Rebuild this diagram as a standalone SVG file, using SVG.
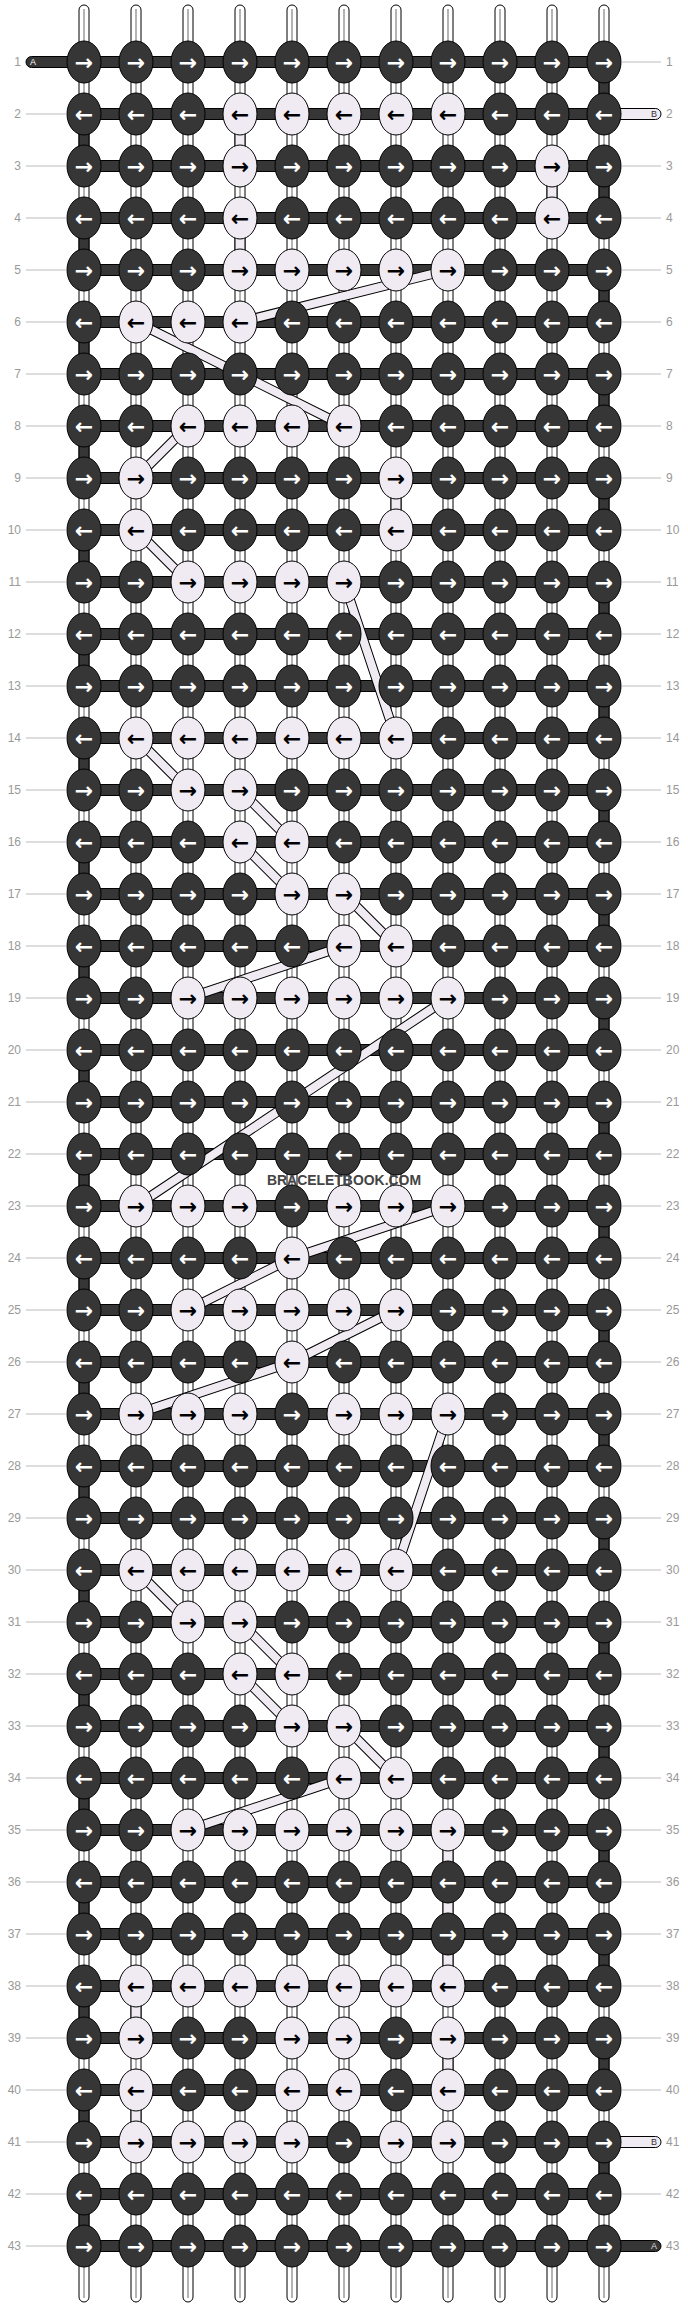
<svg xmlns="http://www.w3.org/2000/svg" width="688" height="2308" viewBox="0 0 688 2308">
<style>
.s{fill:#fff;stroke:#000;stroke-width:1}
.sc{stroke:#b4b4b4;stroke-width:2}
.vd{fill:#363636;stroke:#000;stroke-width:1}
.vp{fill:#f0eaf3;stroke:#000;stroke-width:1}
.h{fill:#363636;stroke:#000;stroke-width:1}
.be{fill:none;stroke:#000;stroke-width:10}
.bp{fill:none;stroke:#f0eaf3;stroke-width:8}
.k ellipse{fill:#363636;stroke:#000;stroke-width:1;rx:17px;ry:21px}
.k text{fill:#fff;font-family:"DejaVu Sans",sans-serif;font-size:22px;font-weight:bold;text-anchor:middle;dominant-baseline:central}
.k .L ellipse{fill:#f0eaf3}
.k .L text{fill:#000}
.lbl{fill:#999;font-family:"Liberation Sans",Arial,sans-serif;font-size:12px}
.lr{text-anchor:end}
.ln{stroke:#bbb;stroke-width:1}
.tt{font-family:"Liberation Sans",Arial,sans-serif;font-size:9px}
</style>
<g id="strings">
<rect class="s" x="79" y="5" width="10" height="2297" rx="5"/><line class="sc" x1="84" y1="9" x2="84" y2="2298"/>
<rect class="s" x="131" y="5" width="10" height="2297" rx="5"/><line class="sc" x1="136" y1="9" x2="136" y2="2298"/>
<rect class="s" x="183" y="5" width="10" height="2297" rx="5"/><line class="sc" x1="188" y1="9" x2="188" y2="2298"/>
<rect class="s" x="235" y="5" width="10" height="2297" rx="5"/><line class="sc" x1="240" y1="9" x2="240" y2="2298"/>
<rect class="s" x="287" y="5" width="10" height="2297" rx="5"/><line class="sc" x1="292" y1="9" x2="292" y2="2298"/>
<rect class="s" x="339" y="5" width="10" height="2297" rx="5"/><line class="sc" x1="344" y1="9" x2="344" y2="2298"/>
<rect class="s" x="391" y="5" width="10" height="2297" rx="5"/><line class="sc" x1="396" y1="9" x2="396" y2="2298"/>
<rect class="s" x="443" y="5" width="10" height="2297" rx="5"/><line class="sc" x1="448" y1="9" x2="448" y2="2298"/>
<rect class="s" x="495" y="5" width="10" height="2297" rx="5"/><line class="sc" x1="500" y1="9" x2="500" y2="2298"/>
<rect class="s" x="547" y="5" width="10" height="2297" rx="5"/><line class="sc" x1="552" y1="9" x2="552" y2="2298"/>
<rect class="s" x="599" y="5" width="10" height="2297" rx="5"/><line class="sc" x1="604" y1="9" x2="604" y2="2298"/>
</g>
<g id="connectors">
<path class="vd" d="M599 77h10v22h-10zM599 181h10v22h-10zM599 285h10v22h-10zM599 389h10v22h-10zM599 493h10v22h-10zM599 597h10v22h-10zM599 701h10v22h-10zM599 805h10v22h-10zM599 909h10v22h-10zM599 1013h10v22h-10zM599 1117h10v22h-10zM599 1221h10v22h-10zM599 1325h10v22h-10zM599 1429h10v22h-10zM599 1533h10v22h-10zM599 1637h10v22h-10zM599 1741h10v22h-10zM599 1845h10v22h-10zM599 1949h10v22h-10zM599 2053h10v22h-10zM599 2157h10v22h-10zM79 129h10v22h-10zM79 233h10v22h-10zM79 337h10v22h-10zM79 441h10v22h-10zM79 545h10v22h-10zM79 649h10v22h-10zM79 753h10v22h-10zM79 857h10v22h-10zM79 961h10v22h-10zM79 1065h10v22h-10zM79 1169h10v22h-10zM79 1273h10v22h-10zM79 1377h10v22h-10zM79 1481h10v22h-10zM79 1585h10v22h-10zM79 1689h10v22h-10zM79 1793h10v22h-10zM79 1897h10v22h-10zM79 2001h10v22h-10zM79 2105h10v22h-10zM79 2209h10v22h-10z"/>
<path class="vp" d="M235 129h10v22h-10zM547 181h10v22h-10zM235 233h10v22h-10zM391 493h10v22h-10zM443 1845h10v22h-10zM443 1897h10v22h-10zM443 1949h10v22h-10zM131 2001h10v22h-10zM443 2053h10v22h-10zM131 2105h10v22h-10z"/>
<rect class="h" x="26" y="56.5" width="62" height="11" rx="5.5"/>
<rect class="vp" x="600" y="108.5" width="61" height="11" rx="5.5"/>
<rect class="vp" x="600" y="2136.5" width="61" height="11" rx="5.5"/>
<rect class="h" x="600" y="2240.5" width="61" height="11" rx="5.5"/>
<path class="h" d="M84 56.5h520v11h-520zM84 108.5h520v11h-520zM84 160.5h520v11h-520zM84 212.5h520v11h-520zM84 264.5h520v11h-520zM84 316.5h520v11h-520zM84 368.5h520v11h-520zM84 420.5h520v11h-520zM84 472.5h520v11h-520zM84 524.5h520v11h-520zM84 576.5h520v11h-520zM84 628.5h520v11h-520zM84 680.5h520v11h-520zM84 732.5h520v11h-520zM84 784.5h520v11h-520zM84 836.5h520v11h-520zM84 888.5h520v11h-520zM84 940.5h520v11h-520zM84 992.5h520v11h-520zM84 1044.5h520v11h-520zM84 1096.5h520v11h-520zM84 1148.5h520v11h-520zM84 1200.5h520v11h-520zM84 1252.5h520v11h-520zM84 1304.5h520v11h-520zM84 1356.5h520v11h-520zM84 1408.5h520v11h-520zM84 1460.5h520v11h-520zM84 1512.5h520v11h-520zM84 1564.5h520v11h-520zM84 1616.5h520v11h-520zM84 1668.5h520v11h-520zM84 1720.5h520v11h-520zM84 1772.5h520v11h-520zM84 1824.5h520v11h-520zM84 1876.5h520v11h-520zM84 1928.5h520v11h-520zM84 1980.5h520v11h-520zM84 2032.5h520v11h-520zM84 2084.5h520v11h-520zM84 2136.5h520v11h-520zM84 2188.5h520v11h-520zM84 2240.5h520v11h-520z"/>
<path class="be" d="M448 270L240 322M136 322L344 426M188 426L136 478M136 530L188 582M344 582L396 738M136 738L188 790M240 790L292 842M240 842L292 894M344 894L396 946M344 946L188 998M448 998L136 1206M448 1206L292 1258M292 1258L188 1310M396 1310L292 1362M292 1362L136 1414M448 1414L396 1570M136 1570L188 1622M240 1622L292 1674M240 1674L292 1726M344 1726L396 1778M344 1778L188 1830"/>
<path class="bp" d="M448 270L240 322M136 322L344 426M188 426L136 478M136 530L188 582M344 582L396 738M136 738L188 790M240 790L292 842M240 842L292 894M344 894L396 946M344 946L188 998M448 998L136 1206M448 1206L292 1258M292 1258L188 1310M396 1310L292 1362M292 1362L136 1414M448 1414L396 1570M136 1570L188 1622M240 1622L292 1674M240 1674L292 1726M344 1726L396 1778M344 1778L188 1830"/>
</g>
<g id="tabs">
<text class="tt" x="30" y="65" fill="#fff">A</text>
<text class="tt" x="651" y="117" fill="#333">B</text>
<text class="tt" x="651" y="2145" fill="#333">B</text>
<text class="tt" x="651" y="2249" fill="#ddd">A</text>
</g>
<g id="row1" class="k" transform="translate(0,62)">
<g id="n1-1" transform="translate(84)"><ellipse/><text>→</text></g>
<g id="n1-2" transform="translate(136)"><ellipse/><text>→</text></g>
<g id="n1-3" transform="translate(188)"><ellipse/><text>→</text></g>
<g id="n1-4" transform="translate(240)"><ellipse/><text>→</text></g>
<g id="n1-5" transform="translate(292)"><ellipse/><text>→</text></g>
<g id="n1-6" transform="translate(344)"><ellipse/><text>→</text></g>
<g id="n1-7" transform="translate(396)"><ellipse/><text>→</text></g>
<g id="n1-8" transform="translate(448)"><ellipse/><text>→</text></g>
<g id="n1-9" transform="translate(500)"><ellipse/><text>→</text></g>
<g id="n1-10" transform="translate(552)"><ellipse/><text>→</text></g>
<g id="n1-11" transform="translate(604)"><ellipse/><text>→</text></g>
</g>
<g id="row2" class="k" transform="translate(0,114)">
<g id="n2-1" transform="translate(84)"><ellipse/><text>←</text></g>
<g id="n2-2" transform="translate(136)"><ellipse/><text>←</text></g>
<g id="n2-3" transform="translate(188)"><ellipse/><text>←</text></g>
<g id="n2-4" class="L" transform="translate(240)"><ellipse/><text>←</text></g>
<g id="n2-5" class="L" transform="translate(292)"><ellipse/><text>←</text></g>
<g id="n2-6" class="L" transform="translate(344)"><ellipse/><text>←</text></g>
<g id="n2-7" class="L" transform="translate(396)"><ellipse/><text>←</text></g>
<g id="n2-8" class="L" transform="translate(448)"><ellipse/><text>←</text></g>
<g id="n2-9" transform="translate(500)"><ellipse/><text>←</text></g>
<g id="n2-10" transform="translate(552)"><ellipse/><text>←</text></g>
<g id="n2-11" transform="translate(604)"><ellipse/><text>←</text></g>
</g>
<g id="row3" class="k" transform="translate(0,166)">
<g id="n3-1" transform="translate(84)"><ellipse/><text>→</text></g>
<g id="n3-2" transform="translate(136)"><ellipse/><text>→</text></g>
<g id="n3-3" transform="translate(188)"><ellipse/><text>→</text></g>
<g id="n3-4" class="L" transform="translate(240)"><ellipse/><text>→</text></g>
<g id="n3-5" transform="translate(292)"><ellipse/><text>→</text></g>
<g id="n3-6" transform="translate(344)"><ellipse/><text>→</text></g>
<g id="n3-7" transform="translate(396)"><ellipse/><text>→</text></g>
<g id="n3-8" transform="translate(448)"><ellipse/><text>→</text></g>
<g id="n3-9" transform="translate(500)"><ellipse/><text>→</text></g>
<g id="n3-10" class="L" transform="translate(552)"><ellipse/><text>→</text></g>
<g id="n3-11" transform="translate(604)"><ellipse/><text>→</text></g>
</g>
<g id="row4" class="k" transform="translate(0,218)">
<g id="n4-1" transform="translate(84)"><ellipse/><text>←</text></g>
<g id="n4-2" transform="translate(136)"><ellipse/><text>←</text></g>
<g id="n4-3" transform="translate(188)"><ellipse/><text>←</text></g>
<g id="n4-4" class="L" transform="translate(240)"><ellipse/><text>←</text></g>
<g id="n4-5" transform="translate(292)"><ellipse/><text>←</text></g>
<g id="n4-6" transform="translate(344)"><ellipse/><text>←</text></g>
<g id="n4-7" transform="translate(396)"><ellipse/><text>←</text></g>
<g id="n4-8" transform="translate(448)"><ellipse/><text>←</text></g>
<g id="n4-9" transform="translate(500)"><ellipse/><text>←</text></g>
<g id="n4-10" class="L" transform="translate(552)"><ellipse/><text>←</text></g>
<g id="n4-11" transform="translate(604)"><ellipse/><text>←</text></g>
</g>
<g id="row5" class="k" transform="translate(0,270)">
<g id="n5-1" transform="translate(84)"><ellipse/><text>→</text></g>
<g id="n5-2" transform="translate(136)"><ellipse/><text>→</text></g>
<g id="n5-3" transform="translate(188)"><ellipse/><text>→</text></g>
<g id="n5-4" class="L" transform="translate(240)"><ellipse/><text>→</text></g>
<g id="n5-5" class="L" transform="translate(292)"><ellipse/><text>→</text></g>
<g id="n5-6" class="L" transform="translate(344)"><ellipse/><text>→</text></g>
<g id="n5-7" class="L" transform="translate(396)"><ellipse/><text>→</text></g>
<g id="n5-8" class="L" transform="translate(448)"><ellipse/><text>→</text></g>
<g id="n5-9" transform="translate(500)"><ellipse/><text>→</text></g>
<g id="n5-10" transform="translate(552)"><ellipse/><text>→</text></g>
<g id="n5-11" transform="translate(604)"><ellipse/><text>→</text></g>
</g>
<g id="row6" class="k" transform="translate(0,322)">
<g id="n6-1" transform="translate(84)"><ellipse/><text>←</text></g>
<g id="n6-2" class="L" transform="translate(136)"><ellipse/><text>←</text></g>
<g id="n6-3" class="L" transform="translate(188)"><ellipse/><text>←</text></g>
<g id="n6-4" class="L" transform="translate(240)"><ellipse/><text>←</text></g>
<g id="n6-5" transform="translate(292)"><ellipse/><text>←</text></g>
<g id="n6-6" transform="translate(344)"><ellipse/><text>←</text></g>
<g id="n6-7" transform="translate(396)"><ellipse/><text>←</text></g>
<g id="n6-8" transform="translate(448)"><ellipse/><text>←</text></g>
<g id="n6-9" transform="translate(500)"><ellipse/><text>←</text></g>
<g id="n6-10" transform="translate(552)"><ellipse/><text>←</text></g>
<g id="n6-11" transform="translate(604)"><ellipse/><text>←</text></g>
</g>
<g id="row7" class="k" transform="translate(0,374)">
<g id="n7-1" transform="translate(84)"><ellipse/><text>→</text></g>
<g id="n7-2" transform="translate(136)"><ellipse/><text>→</text></g>
<g id="n7-3" transform="translate(188)"><ellipse/><text>→</text></g>
<g id="n7-4" transform="translate(240)"><ellipse/><text>→</text></g>
<g id="n7-5" transform="translate(292)"><ellipse/><text>→</text></g>
<g id="n7-6" transform="translate(344)"><ellipse/><text>→</text></g>
<g id="n7-7" transform="translate(396)"><ellipse/><text>→</text></g>
<g id="n7-8" transform="translate(448)"><ellipse/><text>→</text></g>
<g id="n7-9" transform="translate(500)"><ellipse/><text>→</text></g>
<g id="n7-10" transform="translate(552)"><ellipse/><text>→</text></g>
<g id="n7-11" transform="translate(604)"><ellipse/><text>→</text></g>
</g>
<g id="row8" class="k" transform="translate(0,426)">
<g id="n8-1" transform="translate(84)"><ellipse/><text>←</text></g>
<g id="n8-2" transform="translate(136)"><ellipse/><text>←</text></g>
<g id="n8-3" class="L" transform="translate(188)"><ellipse/><text>←</text></g>
<g id="n8-4" class="L" transform="translate(240)"><ellipse/><text>←</text></g>
<g id="n8-5" class="L" transform="translate(292)"><ellipse/><text>←</text></g>
<g id="n8-6" class="L" transform="translate(344)"><ellipse/><text>←</text></g>
<g id="n8-7" transform="translate(396)"><ellipse/><text>←</text></g>
<g id="n8-8" transform="translate(448)"><ellipse/><text>←</text></g>
<g id="n8-9" transform="translate(500)"><ellipse/><text>←</text></g>
<g id="n8-10" transform="translate(552)"><ellipse/><text>←</text></g>
<g id="n8-11" transform="translate(604)"><ellipse/><text>←</text></g>
</g>
<g id="row9" class="k" transform="translate(0,478)">
<g id="n9-1" transform="translate(84)"><ellipse/><text>→</text></g>
<g id="n9-2" class="L" transform="translate(136)"><ellipse/><text>→</text></g>
<g id="n9-3" transform="translate(188)"><ellipse/><text>→</text></g>
<g id="n9-4" transform="translate(240)"><ellipse/><text>→</text></g>
<g id="n9-5" transform="translate(292)"><ellipse/><text>→</text></g>
<g id="n9-6" transform="translate(344)"><ellipse/><text>→</text></g>
<g id="n9-7" class="L" transform="translate(396)"><ellipse/><text>→</text></g>
<g id="n9-8" transform="translate(448)"><ellipse/><text>→</text></g>
<g id="n9-9" transform="translate(500)"><ellipse/><text>→</text></g>
<g id="n9-10" transform="translate(552)"><ellipse/><text>→</text></g>
<g id="n9-11" transform="translate(604)"><ellipse/><text>→</text></g>
</g>
<g id="row10" class="k" transform="translate(0,530)">
<g id="n10-1" transform="translate(84)"><ellipse/><text>←</text></g>
<g id="n10-2" class="L" transform="translate(136)"><ellipse/><text>←</text></g>
<g id="n10-3" transform="translate(188)"><ellipse/><text>←</text></g>
<g id="n10-4" transform="translate(240)"><ellipse/><text>←</text></g>
<g id="n10-5" transform="translate(292)"><ellipse/><text>←</text></g>
<g id="n10-6" transform="translate(344)"><ellipse/><text>←</text></g>
<g id="n10-7" class="L" transform="translate(396)"><ellipse/><text>←</text></g>
<g id="n10-8" transform="translate(448)"><ellipse/><text>←</text></g>
<g id="n10-9" transform="translate(500)"><ellipse/><text>←</text></g>
<g id="n10-10" transform="translate(552)"><ellipse/><text>←</text></g>
<g id="n10-11" transform="translate(604)"><ellipse/><text>←</text></g>
</g>
<g id="row11" class="k" transform="translate(0,582)">
<g id="n11-1" transform="translate(84)"><ellipse/><text>→</text></g>
<g id="n11-2" transform="translate(136)"><ellipse/><text>→</text></g>
<g id="n11-3" class="L" transform="translate(188)"><ellipse/><text>→</text></g>
<g id="n11-4" class="L" transform="translate(240)"><ellipse/><text>→</text></g>
<g id="n11-5" class="L" transform="translate(292)"><ellipse/><text>→</text></g>
<g id="n11-6" class="L" transform="translate(344)"><ellipse/><text>→</text></g>
<g id="n11-7" transform="translate(396)"><ellipse/><text>→</text></g>
<g id="n11-8" transform="translate(448)"><ellipse/><text>→</text></g>
<g id="n11-9" transform="translate(500)"><ellipse/><text>→</text></g>
<g id="n11-10" transform="translate(552)"><ellipse/><text>→</text></g>
<g id="n11-11" transform="translate(604)"><ellipse/><text>→</text></g>
</g>
<g id="row12" class="k" transform="translate(0,634)">
<g id="n12-1" transform="translate(84)"><ellipse/><text>←</text></g>
<g id="n12-2" transform="translate(136)"><ellipse/><text>←</text></g>
<g id="n12-3" transform="translate(188)"><ellipse/><text>←</text></g>
<g id="n12-4" transform="translate(240)"><ellipse/><text>←</text></g>
<g id="n12-5" transform="translate(292)"><ellipse/><text>←</text></g>
<g id="n12-6" transform="translate(344)"><ellipse/><text>←</text></g>
<g id="n12-7" transform="translate(396)"><ellipse/><text>←</text></g>
<g id="n12-8" transform="translate(448)"><ellipse/><text>←</text></g>
<g id="n12-9" transform="translate(500)"><ellipse/><text>←</text></g>
<g id="n12-10" transform="translate(552)"><ellipse/><text>←</text></g>
<g id="n12-11" transform="translate(604)"><ellipse/><text>←</text></g>
</g>
<g id="row13" class="k" transform="translate(0,686)">
<g id="n13-1" transform="translate(84)"><ellipse/><text>→</text></g>
<g id="n13-2" transform="translate(136)"><ellipse/><text>→</text></g>
<g id="n13-3" transform="translate(188)"><ellipse/><text>→</text></g>
<g id="n13-4" transform="translate(240)"><ellipse/><text>→</text></g>
<g id="n13-5" transform="translate(292)"><ellipse/><text>→</text></g>
<g id="n13-6" transform="translate(344)"><ellipse/><text>→</text></g>
<g id="n13-7" transform="translate(396)"><ellipse/><text>→</text></g>
<g id="n13-8" transform="translate(448)"><ellipse/><text>→</text></g>
<g id="n13-9" transform="translate(500)"><ellipse/><text>→</text></g>
<g id="n13-10" transform="translate(552)"><ellipse/><text>→</text></g>
<g id="n13-11" transform="translate(604)"><ellipse/><text>→</text></g>
</g>
<g id="row14" class="k" transform="translate(0,738)">
<g id="n14-1" transform="translate(84)"><ellipse/><text>←</text></g>
<g id="n14-2" class="L" transform="translate(136)"><ellipse/><text>←</text></g>
<g id="n14-3" class="L" transform="translate(188)"><ellipse/><text>←</text></g>
<g id="n14-4" class="L" transform="translate(240)"><ellipse/><text>←</text></g>
<g id="n14-5" class="L" transform="translate(292)"><ellipse/><text>←</text></g>
<g id="n14-6" class="L" transform="translate(344)"><ellipse/><text>←</text></g>
<g id="n14-7" class="L" transform="translate(396)"><ellipse/><text>←</text></g>
<g id="n14-8" transform="translate(448)"><ellipse/><text>←</text></g>
<g id="n14-9" transform="translate(500)"><ellipse/><text>←</text></g>
<g id="n14-10" transform="translate(552)"><ellipse/><text>←</text></g>
<g id="n14-11" transform="translate(604)"><ellipse/><text>←</text></g>
</g>
<g id="row15" class="k" transform="translate(0,790)">
<g id="n15-1" transform="translate(84)"><ellipse/><text>→</text></g>
<g id="n15-2" transform="translate(136)"><ellipse/><text>→</text></g>
<g id="n15-3" class="L" transform="translate(188)"><ellipse/><text>→</text></g>
<g id="n15-4" class="L" transform="translate(240)"><ellipse/><text>→</text></g>
<g id="n15-5" transform="translate(292)"><ellipse/><text>→</text></g>
<g id="n15-6" transform="translate(344)"><ellipse/><text>→</text></g>
<g id="n15-7" transform="translate(396)"><ellipse/><text>→</text></g>
<g id="n15-8" transform="translate(448)"><ellipse/><text>→</text></g>
<g id="n15-9" transform="translate(500)"><ellipse/><text>→</text></g>
<g id="n15-10" transform="translate(552)"><ellipse/><text>→</text></g>
<g id="n15-11" transform="translate(604)"><ellipse/><text>→</text></g>
</g>
<g id="row16" class="k" transform="translate(0,842)">
<g id="n16-1" transform="translate(84)"><ellipse/><text>←</text></g>
<g id="n16-2" transform="translate(136)"><ellipse/><text>←</text></g>
<g id="n16-3" transform="translate(188)"><ellipse/><text>←</text></g>
<g id="n16-4" class="L" transform="translate(240)"><ellipse/><text>←</text></g>
<g id="n16-5" class="L" transform="translate(292)"><ellipse/><text>←</text></g>
<g id="n16-6" transform="translate(344)"><ellipse/><text>←</text></g>
<g id="n16-7" transform="translate(396)"><ellipse/><text>←</text></g>
<g id="n16-8" transform="translate(448)"><ellipse/><text>←</text></g>
<g id="n16-9" transform="translate(500)"><ellipse/><text>←</text></g>
<g id="n16-10" transform="translate(552)"><ellipse/><text>←</text></g>
<g id="n16-11" transform="translate(604)"><ellipse/><text>←</text></g>
</g>
<g id="row17" class="k" transform="translate(0,894)">
<g id="n17-1" transform="translate(84)"><ellipse/><text>→</text></g>
<g id="n17-2" transform="translate(136)"><ellipse/><text>→</text></g>
<g id="n17-3" transform="translate(188)"><ellipse/><text>→</text></g>
<g id="n17-4" transform="translate(240)"><ellipse/><text>→</text></g>
<g id="n17-5" class="L" transform="translate(292)"><ellipse/><text>→</text></g>
<g id="n17-6" class="L" transform="translate(344)"><ellipse/><text>→</text></g>
<g id="n17-7" transform="translate(396)"><ellipse/><text>→</text></g>
<g id="n17-8" transform="translate(448)"><ellipse/><text>→</text></g>
<g id="n17-9" transform="translate(500)"><ellipse/><text>→</text></g>
<g id="n17-10" transform="translate(552)"><ellipse/><text>→</text></g>
<g id="n17-11" transform="translate(604)"><ellipse/><text>→</text></g>
</g>
<g id="row18" class="k" transform="translate(0,946)">
<g id="n18-1" transform="translate(84)"><ellipse/><text>←</text></g>
<g id="n18-2" transform="translate(136)"><ellipse/><text>←</text></g>
<g id="n18-3" transform="translate(188)"><ellipse/><text>←</text></g>
<g id="n18-4" transform="translate(240)"><ellipse/><text>←</text></g>
<g id="n18-5" transform="translate(292)"><ellipse/><text>←</text></g>
<g id="n18-6" class="L" transform="translate(344)"><ellipse/><text>←</text></g>
<g id="n18-7" class="L" transform="translate(396)"><ellipse/><text>←</text></g>
<g id="n18-8" transform="translate(448)"><ellipse/><text>←</text></g>
<g id="n18-9" transform="translate(500)"><ellipse/><text>←</text></g>
<g id="n18-10" transform="translate(552)"><ellipse/><text>←</text></g>
<g id="n18-11" transform="translate(604)"><ellipse/><text>←</text></g>
</g>
<g id="row19" class="k" transform="translate(0,998)">
<g id="n19-1" transform="translate(84)"><ellipse/><text>→</text></g>
<g id="n19-2" transform="translate(136)"><ellipse/><text>→</text></g>
<g id="n19-3" class="L" transform="translate(188)"><ellipse/><text>→</text></g>
<g id="n19-4" class="L" transform="translate(240)"><ellipse/><text>→</text></g>
<g id="n19-5" class="L" transform="translate(292)"><ellipse/><text>→</text></g>
<g id="n19-6" class="L" transform="translate(344)"><ellipse/><text>→</text></g>
<g id="n19-7" class="L" transform="translate(396)"><ellipse/><text>→</text></g>
<g id="n19-8" class="L" transform="translate(448)"><ellipse/><text>→</text></g>
<g id="n19-9" transform="translate(500)"><ellipse/><text>→</text></g>
<g id="n19-10" transform="translate(552)"><ellipse/><text>→</text></g>
<g id="n19-11" transform="translate(604)"><ellipse/><text>→</text></g>
</g>
<g id="row20" class="k" transform="translate(0,1050)">
<g id="n20-1" transform="translate(84)"><ellipse/><text>←</text></g>
<g id="n20-2" transform="translate(136)"><ellipse/><text>←</text></g>
<g id="n20-3" transform="translate(188)"><ellipse/><text>←</text></g>
<g id="n20-4" transform="translate(240)"><ellipse/><text>←</text></g>
<g id="n20-5" transform="translate(292)"><ellipse/><text>←</text></g>
<g id="n20-6" transform="translate(344)"><ellipse/><text>←</text></g>
<g id="n20-7" transform="translate(396)"><ellipse/><text>←</text></g>
<g id="n20-8" transform="translate(448)"><ellipse/><text>←</text></g>
<g id="n20-9" transform="translate(500)"><ellipse/><text>←</text></g>
<g id="n20-10" transform="translate(552)"><ellipse/><text>←</text></g>
<g id="n20-11" transform="translate(604)"><ellipse/><text>←</text></g>
</g>
<g id="row21" class="k" transform="translate(0,1102)">
<g id="n21-1" transform="translate(84)"><ellipse/><text>→</text></g>
<g id="n21-2" transform="translate(136)"><ellipse/><text>→</text></g>
<g id="n21-3" transform="translate(188)"><ellipse/><text>→</text></g>
<g id="n21-4" transform="translate(240)"><ellipse/><text>→</text></g>
<g id="n21-5" transform="translate(292)"><ellipse/><text>→</text></g>
<g id="n21-6" transform="translate(344)"><ellipse/><text>→</text></g>
<g id="n21-7" transform="translate(396)"><ellipse/><text>→</text></g>
<g id="n21-8" transform="translate(448)"><ellipse/><text>→</text></g>
<g id="n21-9" transform="translate(500)"><ellipse/><text>→</text></g>
<g id="n21-10" transform="translate(552)"><ellipse/><text>→</text></g>
<g id="n21-11" transform="translate(604)"><ellipse/><text>→</text></g>
</g>
<g id="row22" class="k" transform="translate(0,1154)">
<g id="n22-1" transform="translate(84)"><ellipse/><text>←</text></g>
<g id="n22-2" transform="translate(136)"><ellipse/><text>←</text></g>
<g id="n22-3" transform="translate(188)"><ellipse/><text>←</text></g>
<g id="n22-4" transform="translate(240)"><ellipse/><text>←</text></g>
<g id="n22-5" transform="translate(292)"><ellipse/><text>←</text></g>
<g id="n22-6" transform="translate(344)"><ellipse/><text>←</text></g>
<g id="n22-7" transform="translate(396)"><ellipse/><text>←</text></g>
<g id="n22-8" transform="translate(448)"><ellipse/><text>←</text></g>
<g id="n22-9" transform="translate(500)"><ellipse/><text>←</text></g>
<g id="n22-10" transform="translate(552)"><ellipse/><text>←</text></g>
<g id="n22-11" transform="translate(604)"><ellipse/><text>←</text></g>
</g>
<g id="row23" class="k" transform="translate(0,1206)">
<g id="n23-1" transform="translate(84)"><ellipse/><text>→</text></g>
<g id="n23-2" class="L" transform="translate(136)"><ellipse/><text>→</text></g>
<g id="n23-3" class="L" transform="translate(188)"><ellipse/><text>→</text></g>
<g id="n23-4" class="L" transform="translate(240)"><ellipse/><text>→</text></g>
<g id="n23-5" transform="translate(292)"><ellipse/><text>→</text></g>
<g id="n23-6" class="L" transform="translate(344)"><ellipse/><text>→</text></g>
<g id="n23-7" class="L" transform="translate(396)"><ellipse/><text>→</text></g>
<g id="n23-8" class="L" transform="translate(448)"><ellipse/><text>→</text></g>
<g id="n23-9" transform="translate(500)"><ellipse/><text>→</text></g>
<g id="n23-10" transform="translate(552)"><ellipse/><text>→</text></g>
<g id="n23-11" transform="translate(604)"><ellipse/><text>→</text></g>
</g>
<g id="row24" class="k" transform="translate(0,1258)">
<g id="n24-1" transform="translate(84)"><ellipse/><text>←</text></g>
<g id="n24-2" transform="translate(136)"><ellipse/><text>←</text></g>
<g id="n24-3" transform="translate(188)"><ellipse/><text>←</text></g>
<g id="n24-4" transform="translate(240)"><ellipse/><text>←</text></g>
<g id="n24-5" class="L" transform="translate(292)"><ellipse/><text>←</text></g>
<g id="n24-6" transform="translate(344)"><ellipse/><text>←</text></g>
<g id="n24-7" transform="translate(396)"><ellipse/><text>←</text></g>
<g id="n24-8" transform="translate(448)"><ellipse/><text>←</text></g>
<g id="n24-9" transform="translate(500)"><ellipse/><text>←</text></g>
<g id="n24-10" transform="translate(552)"><ellipse/><text>←</text></g>
<g id="n24-11" transform="translate(604)"><ellipse/><text>←</text></g>
</g>
<g id="row25" class="k" transform="translate(0,1310)">
<g id="n25-1" transform="translate(84)"><ellipse/><text>→</text></g>
<g id="n25-2" transform="translate(136)"><ellipse/><text>→</text></g>
<g id="n25-3" class="L" transform="translate(188)"><ellipse/><text>→</text></g>
<g id="n25-4" class="L" transform="translate(240)"><ellipse/><text>→</text></g>
<g id="n25-5" class="L" transform="translate(292)"><ellipse/><text>→</text></g>
<g id="n25-6" class="L" transform="translate(344)"><ellipse/><text>→</text></g>
<g id="n25-7" class="L" transform="translate(396)"><ellipse/><text>→</text></g>
<g id="n25-8" transform="translate(448)"><ellipse/><text>→</text></g>
<g id="n25-9" transform="translate(500)"><ellipse/><text>→</text></g>
<g id="n25-10" transform="translate(552)"><ellipse/><text>→</text></g>
<g id="n25-11" transform="translate(604)"><ellipse/><text>→</text></g>
</g>
<g id="row26" class="k" transform="translate(0,1362)">
<g id="n26-1" transform="translate(84)"><ellipse/><text>←</text></g>
<g id="n26-2" transform="translate(136)"><ellipse/><text>←</text></g>
<g id="n26-3" transform="translate(188)"><ellipse/><text>←</text></g>
<g id="n26-4" transform="translate(240)"><ellipse/><text>←</text></g>
<g id="n26-5" class="L" transform="translate(292)"><ellipse/><text>←</text></g>
<g id="n26-6" transform="translate(344)"><ellipse/><text>←</text></g>
<g id="n26-7" transform="translate(396)"><ellipse/><text>←</text></g>
<g id="n26-8" transform="translate(448)"><ellipse/><text>←</text></g>
<g id="n26-9" transform="translate(500)"><ellipse/><text>←</text></g>
<g id="n26-10" transform="translate(552)"><ellipse/><text>←</text></g>
<g id="n26-11" transform="translate(604)"><ellipse/><text>←</text></g>
</g>
<g id="row27" class="k" transform="translate(0,1414)">
<g id="n27-1" transform="translate(84)"><ellipse/><text>→</text></g>
<g id="n27-2" class="L" transform="translate(136)"><ellipse/><text>→</text></g>
<g id="n27-3" class="L" transform="translate(188)"><ellipse/><text>→</text></g>
<g id="n27-4" class="L" transform="translate(240)"><ellipse/><text>→</text></g>
<g id="n27-5" transform="translate(292)"><ellipse/><text>→</text></g>
<g id="n27-6" class="L" transform="translate(344)"><ellipse/><text>→</text></g>
<g id="n27-7" class="L" transform="translate(396)"><ellipse/><text>→</text></g>
<g id="n27-8" class="L" transform="translate(448)"><ellipse/><text>→</text></g>
<g id="n27-9" transform="translate(500)"><ellipse/><text>→</text></g>
<g id="n27-10" transform="translate(552)"><ellipse/><text>→</text></g>
<g id="n27-11" transform="translate(604)"><ellipse/><text>→</text></g>
</g>
<g id="row28" class="k" transform="translate(0,1466)">
<g id="n28-1" transform="translate(84)"><ellipse/><text>←</text></g>
<g id="n28-2" transform="translate(136)"><ellipse/><text>←</text></g>
<g id="n28-3" transform="translate(188)"><ellipse/><text>←</text></g>
<g id="n28-4" transform="translate(240)"><ellipse/><text>←</text></g>
<g id="n28-5" transform="translate(292)"><ellipse/><text>←</text></g>
<g id="n28-6" transform="translate(344)"><ellipse/><text>←</text></g>
<g id="n28-7" transform="translate(396)"><ellipse/><text>←</text></g>
<g id="n28-8" transform="translate(448)"><ellipse/><text>←</text></g>
<g id="n28-9" transform="translate(500)"><ellipse/><text>←</text></g>
<g id="n28-10" transform="translate(552)"><ellipse/><text>←</text></g>
<g id="n28-11" transform="translate(604)"><ellipse/><text>←</text></g>
</g>
<g id="row29" class="k" transform="translate(0,1518)">
<g id="n29-1" transform="translate(84)"><ellipse/><text>→</text></g>
<g id="n29-2" transform="translate(136)"><ellipse/><text>→</text></g>
<g id="n29-3" transform="translate(188)"><ellipse/><text>→</text></g>
<g id="n29-4" transform="translate(240)"><ellipse/><text>→</text></g>
<g id="n29-5" transform="translate(292)"><ellipse/><text>→</text></g>
<g id="n29-6" transform="translate(344)"><ellipse/><text>→</text></g>
<g id="n29-7" transform="translate(396)"><ellipse/><text>→</text></g>
<g id="n29-8" transform="translate(448)"><ellipse/><text>→</text></g>
<g id="n29-9" transform="translate(500)"><ellipse/><text>→</text></g>
<g id="n29-10" transform="translate(552)"><ellipse/><text>→</text></g>
<g id="n29-11" transform="translate(604)"><ellipse/><text>→</text></g>
</g>
<g id="row30" class="k" transform="translate(0,1570)">
<g id="n30-1" transform="translate(84)"><ellipse/><text>←</text></g>
<g id="n30-2" class="L" transform="translate(136)"><ellipse/><text>←</text></g>
<g id="n30-3" class="L" transform="translate(188)"><ellipse/><text>←</text></g>
<g id="n30-4" class="L" transform="translate(240)"><ellipse/><text>←</text></g>
<g id="n30-5" class="L" transform="translate(292)"><ellipse/><text>←</text></g>
<g id="n30-6" class="L" transform="translate(344)"><ellipse/><text>←</text></g>
<g id="n30-7" class="L" transform="translate(396)"><ellipse/><text>←</text></g>
<g id="n30-8" transform="translate(448)"><ellipse/><text>←</text></g>
<g id="n30-9" transform="translate(500)"><ellipse/><text>←</text></g>
<g id="n30-10" transform="translate(552)"><ellipse/><text>←</text></g>
<g id="n30-11" transform="translate(604)"><ellipse/><text>←</text></g>
</g>
<g id="row31" class="k" transform="translate(0,1622)">
<g id="n31-1" transform="translate(84)"><ellipse/><text>→</text></g>
<g id="n31-2" transform="translate(136)"><ellipse/><text>→</text></g>
<g id="n31-3" class="L" transform="translate(188)"><ellipse/><text>→</text></g>
<g id="n31-4" class="L" transform="translate(240)"><ellipse/><text>→</text></g>
<g id="n31-5" transform="translate(292)"><ellipse/><text>→</text></g>
<g id="n31-6" transform="translate(344)"><ellipse/><text>→</text></g>
<g id="n31-7" transform="translate(396)"><ellipse/><text>→</text></g>
<g id="n31-8" transform="translate(448)"><ellipse/><text>→</text></g>
<g id="n31-9" transform="translate(500)"><ellipse/><text>→</text></g>
<g id="n31-10" transform="translate(552)"><ellipse/><text>→</text></g>
<g id="n31-11" transform="translate(604)"><ellipse/><text>→</text></g>
</g>
<g id="row32" class="k" transform="translate(0,1674)">
<g id="n32-1" transform="translate(84)"><ellipse/><text>←</text></g>
<g id="n32-2" transform="translate(136)"><ellipse/><text>←</text></g>
<g id="n32-3" transform="translate(188)"><ellipse/><text>←</text></g>
<g id="n32-4" class="L" transform="translate(240)"><ellipse/><text>←</text></g>
<g id="n32-5" class="L" transform="translate(292)"><ellipse/><text>←</text></g>
<g id="n32-6" transform="translate(344)"><ellipse/><text>←</text></g>
<g id="n32-7" transform="translate(396)"><ellipse/><text>←</text></g>
<g id="n32-8" transform="translate(448)"><ellipse/><text>←</text></g>
<g id="n32-9" transform="translate(500)"><ellipse/><text>←</text></g>
<g id="n32-10" transform="translate(552)"><ellipse/><text>←</text></g>
<g id="n32-11" transform="translate(604)"><ellipse/><text>←</text></g>
</g>
<g id="row33" class="k" transform="translate(0,1726)">
<g id="n33-1" transform="translate(84)"><ellipse/><text>→</text></g>
<g id="n33-2" transform="translate(136)"><ellipse/><text>→</text></g>
<g id="n33-3" transform="translate(188)"><ellipse/><text>→</text></g>
<g id="n33-4" transform="translate(240)"><ellipse/><text>→</text></g>
<g id="n33-5" class="L" transform="translate(292)"><ellipse/><text>→</text></g>
<g id="n33-6" class="L" transform="translate(344)"><ellipse/><text>→</text></g>
<g id="n33-7" transform="translate(396)"><ellipse/><text>→</text></g>
<g id="n33-8" transform="translate(448)"><ellipse/><text>→</text></g>
<g id="n33-9" transform="translate(500)"><ellipse/><text>→</text></g>
<g id="n33-10" transform="translate(552)"><ellipse/><text>→</text></g>
<g id="n33-11" transform="translate(604)"><ellipse/><text>→</text></g>
</g>
<g id="row34" class="k" transform="translate(0,1778)">
<g id="n34-1" transform="translate(84)"><ellipse/><text>←</text></g>
<g id="n34-2" transform="translate(136)"><ellipse/><text>←</text></g>
<g id="n34-3" transform="translate(188)"><ellipse/><text>←</text></g>
<g id="n34-4" transform="translate(240)"><ellipse/><text>←</text></g>
<g id="n34-5" transform="translate(292)"><ellipse/><text>←</text></g>
<g id="n34-6" class="L" transform="translate(344)"><ellipse/><text>←</text></g>
<g id="n34-7" class="L" transform="translate(396)"><ellipse/><text>←</text></g>
<g id="n34-8" transform="translate(448)"><ellipse/><text>←</text></g>
<g id="n34-9" transform="translate(500)"><ellipse/><text>←</text></g>
<g id="n34-10" transform="translate(552)"><ellipse/><text>←</text></g>
<g id="n34-11" transform="translate(604)"><ellipse/><text>←</text></g>
</g>
<g id="row35" class="k" transform="translate(0,1830)">
<g id="n35-1" transform="translate(84)"><ellipse/><text>→</text></g>
<g id="n35-2" transform="translate(136)"><ellipse/><text>→</text></g>
<g id="n35-3" class="L" transform="translate(188)"><ellipse/><text>→</text></g>
<g id="n35-4" class="L" transform="translate(240)"><ellipse/><text>→</text></g>
<g id="n35-5" class="L" transform="translate(292)"><ellipse/><text>→</text></g>
<g id="n35-6" class="L" transform="translate(344)"><ellipse/><text>→</text></g>
<g id="n35-7" class="L" transform="translate(396)"><ellipse/><text>→</text></g>
<g id="n35-8" class="L" transform="translate(448)"><ellipse/><text>→</text></g>
<g id="n35-9" transform="translate(500)"><ellipse/><text>→</text></g>
<g id="n35-10" transform="translate(552)"><ellipse/><text>→</text></g>
<g id="n35-11" transform="translate(604)"><ellipse/><text>→</text></g>
</g>
<g id="row36" class="k" transform="translate(0,1882)">
<g id="n36-1" transform="translate(84)"><ellipse/><text>←</text></g>
<g id="n36-2" transform="translate(136)"><ellipse/><text>←</text></g>
<g id="n36-3" transform="translate(188)"><ellipse/><text>←</text></g>
<g id="n36-4" transform="translate(240)"><ellipse/><text>←</text></g>
<g id="n36-5" transform="translate(292)"><ellipse/><text>←</text></g>
<g id="n36-6" transform="translate(344)"><ellipse/><text>←</text></g>
<g id="n36-7" transform="translate(396)"><ellipse/><text>←</text></g>
<g id="n36-8" transform="translate(448)"><ellipse/><text>←</text></g>
<g id="n36-9" transform="translate(500)"><ellipse/><text>←</text></g>
<g id="n36-10" transform="translate(552)"><ellipse/><text>←</text></g>
<g id="n36-11" transform="translate(604)"><ellipse/><text>←</text></g>
</g>
<g id="row37" class="k" transform="translate(0,1934)">
<g id="n37-1" transform="translate(84)"><ellipse/><text>→</text></g>
<g id="n37-2" transform="translate(136)"><ellipse/><text>→</text></g>
<g id="n37-3" transform="translate(188)"><ellipse/><text>→</text></g>
<g id="n37-4" transform="translate(240)"><ellipse/><text>→</text></g>
<g id="n37-5" transform="translate(292)"><ellipse/><text>→</text></g>
<g id="n37-6" transform="translate(344)"><ellipse/><text>→</text></g>
<g id="n37-7" transform="translate(396)"><ellipse/><text>→</text></g>
<g id="n37-8" transform="translate(448)"><ellipse/><text>→</text></g>
<g id="n37-9" transform="translate(500)"><ellipse/><text>→</text></g>
<g id="n37-10" transform="translate(552)"><ellipse/><text>→</text></g>
<g id="n37-11" transform="translate(604)"><ellipse/><text>→</text></g>
</g>
<g id="row38" class="k" transform="translate(0,1986)">
<g id="n38-1" transform="translate(84)"><ellipse/><text>←</text></g>
<g id="n38-2" class="L" transform="translate(136)"><ellipse/><text>←</text></g>
<g id="n38-3" class="L" transform="translate(188)"><ellipse/><text>←</text></g>
<g id="n38-4" class="L" transform="translate(240)"><ellipse/><text>←</text></g>
<g id="n38-5" class="L" transform="translate(292)"><ellipse/><text>←</text></g>
<g id="n38-6" class="L" transform="translate(344)"><ellipse/><text>←</text></g>
<g id="n38-7" class="L" transform="translate(396)"><ellipse/><text>←</text></g>
<g id="n38-8" class="L" transform="translate(448)"><ellipse/><text>←</text></g>
<g id="n38-9" transform="translate(500)"><ellipse/><text>←</text></g>
<g id="n38-10" transform="translate(552)"><ellipse/><text>←</text></g>
<g id="n38-11" transform="translate(604)"><ellipse/><text>←</text></g>
</g>
<g id="row39" class="k" transform="translate(0,2038)">
<g id="n39-1" transform="translate(84)"><ellipse/><text>→</text></g>
<g id="n39-2" class="L" transform="translate(136)"><ellipse/><text>→</text></g>
<g id="n39-3" transform="translate(188)"><ellipse/><text>→</text></g>
<g id="n39-4" transform="translate(240)"><ellipse/><text>→</text></g>
<g id="n39-5" class="L" transform="translate(292)"><ellipse/><text>→</text></g>
<g id="n39-6" class="L" transform="translate(344)"><ellipse/><text>→</text></g>
<g id="n39-7" transform="translate(396)"><ellipse/><text>→</text></g>
<g id="n39-8" class="L" transform="translate(448)"><ellipse/><text>→</text></g>
<g id="n39-9" transform="translate(500)"><ellipse/><text>→</text></g>
<g id="n39-10" transform="translate(552)"><ellipse/><text>→</text></g>
<g id="n39-11" transform="translate(604)"><ellipse/><text>→</text></g>
</g>
<g id="row40" class="k" transform="translate(0,2090)">
<g id="n40-1" transform="translate(84)"><ellipse/><text>←</text></g>
<g id="n40-2" class="L" transform="translate(136)"><ellipse/><text>←</text></g>
<g id="n40-3" transform="translate(188)"><ellipse/><text>←</text></g>
<g id="n40-4" transform="translate(240)"><ellipse/><text>←</text></g>
<g id="n40-5" class="L" transform="translate(292)"><ellipse/><text>←</text></g>
<g id="n40-6" class="L" transform="translate(344)"><ellipse/><text>←</text></g>
<g id="n40-7" transform="translate(396)"><ellipse/><text>←</text></g>
<g id="n40-8" class="L" transform="translate(448)"><ellipse/><text>←</text></g>
<g id="n40-9" transform="translate(500)"><ellipse/><text>←</text></g>
<g id="n40-10" transform="translate(552)"><ellipse/><text>←</text></g>
<g id="n40-11" transform="translate(604)"><ellipse/><text>←</text></g>
</g>
<g id="row41" class="k" transform="translate(0,2142)">
<g id="n41-1" transform="translate(84)"><ellipse/><text>→</text></g>
<g id="n41-2" class="L" transform="translate(136)"><ellipse/><text>→</text></g>
<g id="n41-3" class="L" transform="translate(188)"><ellipse/><text>→</text></g>
<g id="n41-4" class="L" transform="translate(240)"><ellipse/><text>→</text></g>
<g id="n41-5" class="L" transform="translate(292)"><ellipse/><text>→</text></g>
<g id="n41-6" transform="translate(344)"><ellipse/><text>→</text></g>
<g id="n41-7" class="L" transform="translate(396)"><ellipse/><text>→</text></g>
<g id="n41-8" class="L" transform="translate(448)"><ellipse/><text>→</text></g>
<g id="n41-9" transform="translate(500)"><ellipse/><text>→</text></g>
<g id="n41-10" transform="translate(552)"><ellipse/><text>→</text></g>
<g id="n41-11" transform="translate(604)"><ellipse/><text>→</text></g>
</g>
<g id="row42" class="k" transform="translate(0,2194)">
<g id="n42-1" transform="translate(84)"><ellipse/><text>←</text></g>
<g id="n42-2" transform="translate(136)"><ellipse/><text>←</text></g>
<g id="n42-3" transform="translate(188)"><ellipse/><text>←</text></g>
<g id="n42-4" transform="translate(240)"><ellipse/><text>←</text></g>
<g id="n42-5" transform="translate(292)"><ellipse/><text>←</text></g>
<g id="n42-6" transform="translate(344)"><ellipse/><text>←</text></g>
<g id="n42-7" transform="translate(396)"><ellipse/><text>←</text></g>
<g id="n42-8" transform="translate(448)"><ellipse/><text>←</text></g>
<g id="n42-9" transform="translate(500)"><ellipse/><text>←</text></g>
<g id="n42-10" transform="translate(552)"><ellipse/><text>←</text></g>
<g id="n42-11" transform="translate(604)"><ellipse/><text>←</text></g>
</g>
<g id="row43" class="k" transform="translate(0,2246)">
<g id="n43-1" transform="translate(84)"><ellipse/><text>→</text></g>
<g id="n43-2" transform="translate(136)"><ellipse/><text>→</text></g>
<g id="n43-3" transform="translate(188)"><ellipse/><text>→</text></g>
<g id="n43-4" transform="translate(240)"><ellipse/><text>→</text></g>
<g id="n43-5" transform="translate(292)"><ellipse/><text>→</text></g>
<g id="n43-6" transform="translate(344)"><ellipse/><text>→</text></g>
<g id="n43-7" transform="translate(396)"><ellipse/><text>→</text></g>
<g id="n43-8" transform="translate(448)"><ellipse/><text>→</text></g>
<g id="n43-9" transform="translate(500)"><ellipse/><text>→</text></g>
<g id="n43-10" transform="translate(552)"><ellipse/><text>→</text></g>
<g id="n43-11" transform="translate(604)"><ellipse/><text>→</text></g>
</g>
<g id="labels">
<path class="ln" d="M26 114H67M26 166H67M26 218H67M26 270H67M26 322H67M26 374H67M26 426H67M26 478H67M26 530H67M26 582H67M26 634H67M26 686H67M26 738H67M26 790H67M26 842H67M26 894H67M26 946H67M26 998H67M26 1050H67M26 1102H67M26 1154H67M26 1206H67M26 1258H67M26 1310H67M26 1362H67M26 1414H67M26 1466H67M26 1518H67M26 1570H67M26 1622H67M26 1674H67M26 1726H67M26 1778H67M26 1830H67M26 1882H67M26 1934H67M26 1986H67M26 2038H67M26 2090H67M26 2142H67M26 2194H67M26 2246H67"/>
<path class="ln" d="M621 62H661M621 166H661M621 218H661M621 270H661M621 322H661M621 374H661M621 426H661M621 478H661M621 530H661M621 582H661M621 634H661M621 686H661M621 738H661M621 790H661M621 842H661M621 894H661M621 946H661M621 998H661M621 1050H661M621 1102H661M621 1154H661M621 1206H661M621 1258H661M621 1310H661M621 1362H661M621 1414H661M621 1466H661M621 1518H661M621 1570H661M621 1622H661M621 1674H661M621 1726H661M621 1778H661M621 1830H661M621 1882H661M621 1934H661M621 1986H661M621 2038H661M621 2090H661M621 2194H661"/>
<g class="lbl lr">
<text x="21" y="66">1</text><text x="21" y="118">2</text><text x="21" y="170">3</text><text x="21" y="222">4</text><text x="21" y="274">5</text><text x="21" y="326">6</text><text x="21" y="378">7</text><text x="21" y="430">8</text><text x="21" y="482">9</text><text x="21" y="534">10</text><text x="21" y="586">11</text><text x="21" y="638">12</text><text x="21" y="690">13</text><text x="21" y="742">14</text><text x="21" y="794">15</text><text x="21" y="846">16</text><text x="21" y="898">17</text><text x="21" y="950">18</text><text x="21" y="1002">19</text><text x="21" y="1054">20</text><text x="21" y="1106">21</text><text x="21" y="1158">22</text><text x="21" y="1210">23</text><text x="21" y="1262">24</text><text x="21" y="1314">25</text><text x="21" y="1366">26</text><text x="21" y="1418">27</text><text x="21" y="1470">28</text><text x="21" y="1522">29</text><text x="21" y="1574">30</text><text x="21" y="1626">31</text><text x="21" y="1678">32</text><text x="21" y="1730">33</text><text x="21" y="1782">34</text><text x="21" y="1834">35</text><text x="21" y="1886">36</text><text x="21" y="1938">37</text><text x="21" y="1990">38</text><text x="21" y="2042">39</text><text x="21" y="2094">40</text><text x="21" y="2146">41</text><text x="21" y="2198">42</text><text x="21" y="2250">43</text>
</g>
<g class="lbl">
<text x="666" y="66">1</text><text x="666" y="118">2</text><text x="666" y="170">3</text><text x="666" y="222">4</text><text x="666" y="274">5</text><text x="666" y="326">6</text><text x="666" y="378">7</text><text x="666" y="430">8</text><text x="666" y="482">9</text><text x="666" y="534">10</text><text x="666" y="586">11</text><text x="666" y="638">12</text><text x="666" y="690">13</text><text x="666" y="742">14</text><text x="666" y="794">15</text><text x="666" y="846">16</text><text x="666" y="898">17</text><text x="666" y="950">18</text><text x="666" y="1002">19</text><text x="666" y="1054">20</text><text x="666" y="1106">21</text><text x="666" y="1158">22</text><text x="666" y="1210">23</text><text x="666" y="1262">24</text><text x="666" y="1314">25</text><text x="666" y="1366">26</text><text x="666" y="1418">27</text><text x="666" y="1470">28</text><text x="666" y="1522">29</text><text x="666" y="1574">30</text><text x="666" y="1626">31</text><text x="666" y="1678">32</text><text x="666" y="1730">33</text><text x="666" y="1782">34</text><text x="666" y="1834">35</text><text x="666" y="1886">36</text><text x="666" y="1938">37</text><text x="666" y="1990">38</text><text x="666" y="2042">39</text><text x="666" y="2094">40</text><text x="666" y="2146">41</text><text x="666" y="2198">42</text><text x="666" y="2250">43</text>
</g>
</g>
<text id="watermark" x="344" y="1185" font-family="'Liberation Sans',Arial,sans-serif" font-weight="bold" font-size="15" fill="#444" text-anchor="middle" textLength="154" lengthAdjust="spacingAndGlyphs">BRACELETBOOK.COM</text>
</svg>
